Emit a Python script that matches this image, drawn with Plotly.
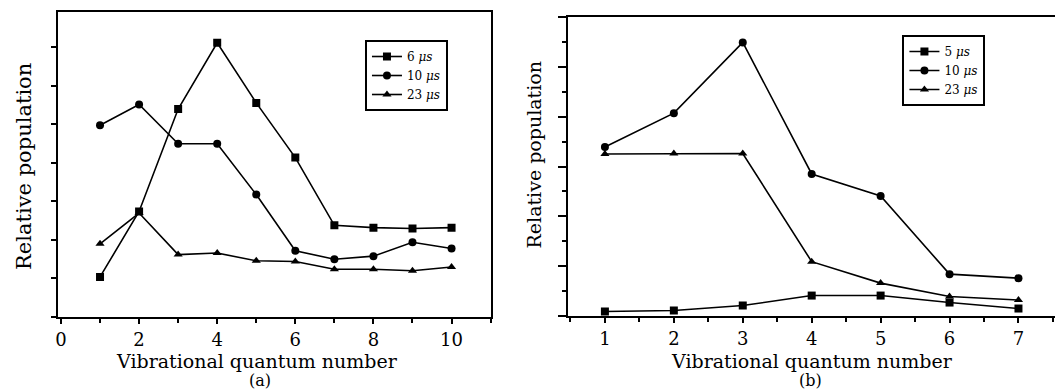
import plotly.graph_objects as go

# ---- data panel (a) ----
v_a = [1, 2, 3, 4, 5, 6, 7, 8, 9, 10]
pop_a_6us = [0.52, 1.37, 2.70, 3.56, 2.78, 2.07, 1.19, 1.16, 1.15, 1.16]
pop_a_10us = [2.49, 2.76, 2.25, 2.25, 1.59, 0.86, 0.75, 0.79, 0.97, 0.89]
pop_a_23us = [0.95, 1.35, 0.81, 0.83, 0.73, 0.72, 0.62, 0.62, 0.60, 0.65]
labels_a = ["6 <i>μs</i>", "10 <i>μs</i>", "23 <i>μs</i>"]

# ---- data panel (b) ----
v_b = [1, 2, 3, 4, 5, 6, 7]
pop_b_5us = [0.09, 0.11, 0.21, 0.41, 0.41, 0.27, 0.15]
pop_b_10us = [3.39, 4.07, 5.49, 2.85, 2.41, 0.84, 0.76]
pop_b_23us = [3.25, 3.26, 3.26, 1.09, 0.66, 0.39, 0.32]
labels_b = ["5 <i>μs</i>", "10 <i>μs</i>", "23 <i>μs</i>"]

x_ticks_a = [0, 2, 4, 6, 8, 10]
x_ticks_b = [1, 2, 3, 4, 5, 6, 7]

FONT = "DejaVu Serif"
symbols = ["square", "circle", "triangle-up"]

fig = go.Figure()

for ys, lab, sym in zip([pop_a_6us, pop_a_10us, pop_a_23us], labels_a, symbols):
    fig.add_trace(go.Scatter(
        x=v_a, y=ys, name=lab, mode="lines+markers",
        line=dict(color="black", width=1.6),
        marker=dict(symbol=sym, size=8, color="black"),
        xaxis="x", yaxis="y", legend="legend"))

for ys, lab, sym in zip([pop_b_5us, pop_b_10us, pop_b_23us], labels_b, symbols):
    fig.add_trace(go.Scatter(
        x=v_b, y=ys, name=lab, mode="lines+markers",
        line=dict(color="black", width=1.6),
        marker=dict(symbol=sym, size=8, color="black"),
        xaxis="x2", yaxis="y2", legend="legend2"))

W, H = 1055, 389
tickfont = dict(family=FONT, size=18, color="black")

axis_common = dict(showgrid=False, zeroline=False, showline=True, linecolor="black",
                   linewidth=2, ticks="outside", tickcolor="black", ticklen=5, tickwidth=1.5)

fig.update_layout(
    width=W, height=H, margin=dict(l=0, r=0, t=0, b=0),
    paper_bgcolor="white", plot_bgcolor="white",
    font=dict(family=FONT, color="black"),
    xaxis=dict(domain=[55 / W, 489 / W], range=[-0.08, 11.0], tickvals=x_ticks_a,
               mirror=True, tickfont=tickfont,
               minor=dict(dtick=1, tick0=0, ticks="outside", ticklen=4, tickcolor="black"),
               anchor="y", **axis_common),
    yaxis=dict(domain=[(H - 317) / H, (H - 12) / H], range=[0, 3.96], dtick=0.5, tick0=0,
               showticklabels=False, mirror=True, anchor="x", **axis_common),
    xaxis2=dict(domain=[567 / W, 1.0], range=[0.47, 7.53], tickvals=x_ticks_b,
                mirror=True, tickfont=tickfont,
                minor=dict(dtick=0.5, tick0=0, ticks="outside", ticklen=4, tickcolor="black"),
                anchor="y2", **axis_common),
    yaxis2=dict(domain=[(H - 316) / H, (H - 17) / H], range=[0, 6.0], dtick=1, tick0=0,
                showticklabels=False, mirror=False, anchor="x2",
                minor=dict(dtick=0.5, tick0=0, ticks="outside", ticklen=4, tickcolor="black"),
                **{**axis_common, "ticklen": 8}),
    showlegend=True,
    legend=dict(x=363 / W, y=(H - 40) / H, xanchor="left", yanchor="top",
                bgcolor="white", bordercolor="black", borderwidth=2,
                font=dict(family=FONT, size=12, color="black"), tracegroupgap=0),
    legend2=dict(x=902 / W, y=(H - 35) / H, xanchor="left", yanchor="top",
                 bgcolor="white", bordercolor="black", borderwidth=2,
                 font=dict(family=FONT, size=12, color="black"), tracegroupgap=0),
)

def note(text, px, py, size, angle=0):
    fig.add_annotation(text=text, x=px / W, y=(H - py) / H, xref="paper", yref="paper",
                       xanchor="center", yanchor="middle", textangle=angle, showarrow=False,
                       font=dict(family=FONT, size=size, color="black"))

note("Relative population", 21, 166, 21, -90)
note("Relative population", 533, 155, 19, -90)
note("Vibrational quantum number", 255, 361, 19)
note("Vibrational quantum number", 811, 361, 19)
note("(a)", 258, 380, 16)
note("(b)", 810, 380, 16)

fig.write_html("out.html", config={"displayModeBar": False},
               post_script="document.body.style.margin='0';document.body.style.overflow='hidden';")
